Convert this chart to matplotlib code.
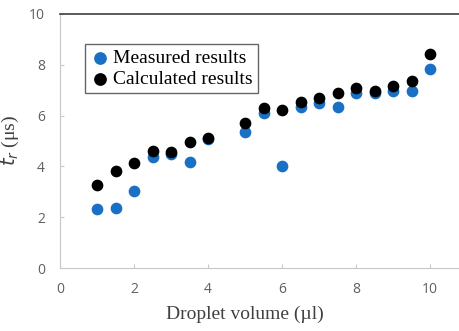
import matplotlib.pyplot as plt
import numpy as np

# droplet volume (ul) and rise time (us)
volume = [1, 1.5, 2, 2.5, 3, 3.5, 4, 5, 5.5, 6, 6.5, 7, 7.5, 8, 8.5, 9, 9.5, 10]
measured = [2.31, 2.37, 3.02, 4.38, 4.48, 4.19, 5.08, 5.37, 6.09, 4.03,
            6.35, 6.48, 6.35, 6.90, 6.90, 6.98, 6.98, 7.83]
calculated = [3.27, 3.83, 4.15, 4.61, 4.58, 4.97, 5.13, 5.70, 6.31, 6.22,
              6.52, 6.71, 6.90, 7.07, 6.97, 7.18, 7.38, 8.43]

f = plt.figure(figsize=(4.59, 3.31), dpi=100)
ax = f.add_axes([0.131, 0.19, 0.869, 0.768])

ax.scatter(volume, measured, s=55, color='#1a70c4', label='Measured results', zorder=2)
ax.scatter(volume, calculated, s=55, color='black', label='Calculated results', zorder=3)

xmax = 10.78
ax.set_xlim(0, xmax)
ax.set_ylim(0, 10)
ax.set_xticks([0, 2, 4, 6, 8, 10])
ax.set_yticks([0, 2, 4, 6, 8, 10])

for s in ['left', 'bottom']:
    ax.spines[s].set_color('#c8c8c8')
ax.spines['right'].set_visible(False)
ax.spines['top'].set_color('#404040')
ax.spines['top'].set_linewidth(1.2)
ax.tick_params(colors='#c8c8c8', labelcolor='#606060', labelsize=10, length=3, direction='in')
ax.tick_params(axis='y', pad=11)
ax.tick_params(axis='x', pad=10)
for lab in ax.get_xticklabels() + ax.get_yticklabels():
    lab.set_family('Open Sans')

ax.set_xlabel('Droplet volume (\u00b5l)', family='Liberation Serif', fontsize=14,
              color='#404040', labelpad=6)
ax.xaxis.label.set_x(5 / xmax)
ax.set_ylabel(r'$t_r$ ($\mathregular{\mu}$s)', family='Liberation Serif', fontsize=14,
              color='#404040', labelpad=6)

leg = ax.legend(loc='upper left', bbox_to_anchor=(0.063, 0.88), prop={'family': 'Liberation Serif', 'size': 14},
                frameon=True, fancybox=False, edgecolor='#404040', handletextpad=0.2,
                borderpad=0.25, labelspacing=0.2, handlelength=1.0, borderaxespad=0,
                markerscale=1.1)
leg.get_frame().set_linewidth(1.0)

f.savefig('out.png', dpi=100)
